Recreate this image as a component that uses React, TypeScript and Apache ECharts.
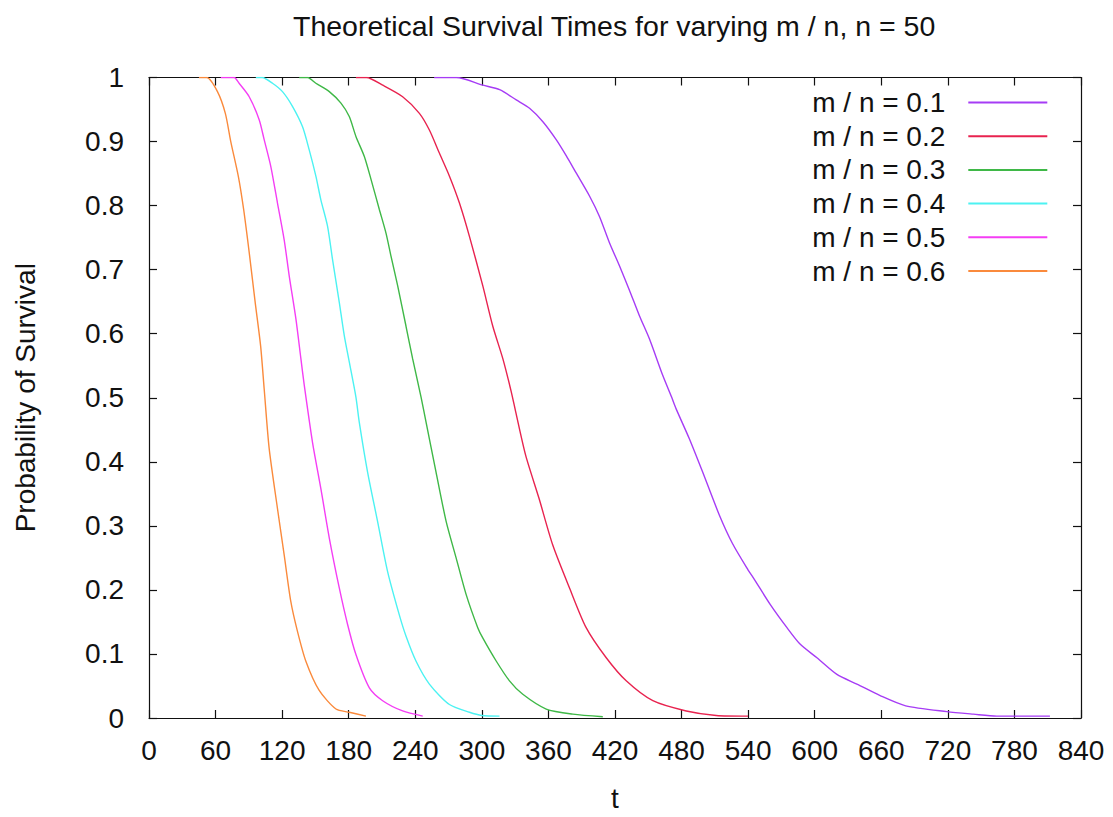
import React, { useEffect, useRef } from "react";
import * as echarts from "echarts";

const titleText = "Theoretical Survival Times for varying m / n, n = 50";
const xName = "t";
const yName = "Probability of Survival";
const seriesNames = ["m / n = 0.1", "m / n = 0.2", "m / n = 0.3", "m / n = 0.4", "m / n = 0.5", "m / n = 0.6"];
const seriesColors = ["#a63cf5", "#e8234f", "#3fb847", "#4cf2f2", "#f43ef4", "#fa8a3c"];

const ratio01: [number, number][] = [
  [257, 1], [277, 1], [301, 0.988], [316, 0.981], [331, 0.965], [343, 0.952], [355, 0.931], [367, 0.903],
  [376, 0.878], [385, 0.851], [397, 0.815], [406, 0.783], [415, 0.742], [424, 0.706], [433, 0.668],
  [442, 0.628], [451, 0.592], [463, 0.535], [471, 0.501], [475, 0.483], [487, 0.436], [499, 0.384],
  [514, 0.317], [526, 0.272], [540, 0.231], [545, 0.218], [560, 0.177], [575, 0.141], [587, 0.115],
  [602, 0.094], [620, 0.068], [638, 0.053], [659, 0.035], [682, 0.019], [719, 0.01], [743, 0.006],
  [764, 0.003], [812, 0.003],
];
const ratio02: [number, number][] = [
  [186.5, 1], [196, 1], [210.6, 0.988], [228.6, 0.97], [243.7, 0.944], [252.7, 0.918], [261.7, 0.882],
  [270.8, 0.846], [279.8, 0.804], [288.8, 0.752], [300.8, 0.675], [309.8, 0.612], [318.9, 0.561],
  [326.4, 0.51], [330.5, 0.478], [339.5, 0.41], [351.5, 0.343], [363.9, 0.27], [379, 0.203], [394, 0.141],
  [412.1, 0.094], [430.1, 0.058], [454.1, 0.027], [484.2, 0.011], [511.2, 0.004], [539.9, 0.003],
];
const ratio03: [number, number][] = [
  [135.4, 1], [143, 1], [150.4, 0.991], [162.5, 0.978], [173, 0.96], [180.5, 0.939], [186.5, 0.908],
  [194, 0.877], [200.1, 0.841], [207.6, 0.794], [213.6, 0.757], [218.1, 0.721], [224.1, 0.675],
  [231.6, 0.612], [237.6, 0.561], [245.2, 0.501], [249.7, 0.462], [258.7, 0.384], [267.8, 0.307],
  [276.8, 0.25], [285.8, 0.193], [296.3, 0.141], [300.8, 0.125], [312.9, 0.089], [324.9, 0.058],
  [336.9, 0.037], [358, 0.014], [382, 0.006], [409, 0.002],
];
const ratio04: [number, number][] = [
  [96.3, 1], [102, 1], [111.3, 0.991], [120.3, 0.978], [129.3, 0.955], [138.4, 0.923], [144.4, 0.887],
  [150.4, 0.846], [154.9, 0.809], [160.9, 0.768], [165.4, 0.716], [171.5, 0.649], [176, 0.597],
  [180.5, 0.556], [186.5, 0.501], [189.5, 0.462], [197, 0.384], [206, 0.307], [215, 0.229], [225.6, 0.161],
  [231.6, 0.128], [240.6, 0.089], [252.7, 0.053], [270.8, 0.021], [288.8, 0.009], [300, 0.004], [315.9, 0.003],
];
const ratio05: [number, number][] = [
  [64.7, 1], [76.7, 1], [81.2, 0.991], [90.3, 0.97], [99.3, 0.934], [103.8, 0.903], [109.8, 0.861],
  [115.8, 0.804], [121.8, 0.747], [126.4, 0.69], [132.4, 0.623], [136.9, 0.561], [139.9, 0.52],
  [147.4, 0.43], [154.9, 0.358], [162.5, 0.281], [171.5, 0.203], [179, 0.146], [186.5, 0.099],
  [198.6, 0.047], [210.6, 0.027], [228.6, 0.011], [246.7, 0.003],
];
const ratio06: [number, number][] = [
  [45, 1], [52, 1], [61.7, 0.978], [68.8, 0.944], [73.7, 0.9], [80.6, 0.845], [85.3, 0.794], [90.3, 0.727],
  [95.7, 0.649], [100.6, 0.581], [103.8, 0.514], [108.3, 0.421], [115.8, 0.327], [121.8, 0.255],
  [127.8, 0.182], [133.7, 0.136], [141.3, 0.089], [153.4, 0.043], [168.5, 0.014], [180.5, 0.009],
  [195.5, 0.003],
];
const allSeries = [ratio01, ratio02, ratio03, ratio04, ratio05, ratio06];

const FONT = "'Liberation Sans', Arial, sans-serif";
const FS = 28;

const mkLine = () => ({ show: true, onZero: false, lineStyle: { color: "#111", width: 1.2 } });
const mkTick = () => ({ show: true, inside: true, length: 8, lineStyle: { color: "#111", width: 1.2 } });

export default function App() {
  const ref = useRef<HTMLDivElement>(null);
  useEffect(() => {
    document.body.style.margin = "0";
    const chart = echarts.init(ref.current!, null, { renderer: "svg" });
    chart.setOption({
      animation: false,
      backgroundColor: "#fff",
      title: {
        text: titleText,
        left: 288,
        top: 6,
        textStyle: { fontFamily: FONT, fontSize: 28.5, fontWeight: "normal", color: "#111" },
      },
      grid: { left: 149, right: 32, top: 77.5, bottom: 96.5, containLabel: false },
      legend: {
        orient: "vertical",
        right: 65.7,
        top: 88.5,
        padding: 0,
        align: "right",
        icon: "rect",
        itemWidth: 79,
        itemHeight: 2,
        itemGap: 5.7,
        textStyle: { fontFamily: FONT, fontSize: FS, color: "#111", lineHeight: 28, padding: [0, 18, 0, 0] },
        data: seriesNames,
      },
      xAxis: [
        {
          type: "value", min: 0, max: 840, interval: 60, position: "bottom",
          name: xName, nameLocation: "middle", nameGap: 66,
          nameTextStyle: { fontFamily: FONT, fontSize: FS, color: "#111" },
          axisLine: mkLine(), axisTick: mkTick(), splitLine: { show: false },
          axisLabel: { fontFamily: FONT, fontSize: FS, color: "#111", margin: 18 },
        },
        {
          type: "value", min: 0, max: 840, interval: 60, position: "top",
          axisLine: mkLine(), axisTick: mkTick(), splitLine: { show: false }, axisLabel: { show: false },
        },
      ],
      yAxis: [
        {
          type: "value", min: 0, max: 1, interval: 0.1, position: "left",
          name: yName, nameLocation: "middle", nameGap: 110, nameRotate: 90,
          nameTextStyle: { fontFamily: FONT, fontSize: FS, color: "#111" },
          axisLine: mkLine(), axisTick: mkTick(), splitLine: { show: false },
          axisLabel: {
            fontFamily: FONT, fontSize: FS, color: "#111", margin: 25,
            formatter: (v: number) => (v === 0 ? "0" : v === 1 ? "1" : v.toFixed(1)),
          },
        },
        {
          type: "value", min: 0, max: 1, interval: 0.1, position: "right",
          axisLine: mkLine(), axisTick: mkTick(), splitLine: { show: false }, axisLabel: { show: false },
        },
      ],
      series: allSeries.map((d, i) => ({
        name: seriesNames[i],
        type: "line",
        data: d,
        showSymbol: false,
        symbol: "none",
        smooth: 0.25,
        color: seriesColors[i],
        lineStyle: { width: 1.4, color: seriesColors[i] },
        itemStyle: { color: seriesColors[i] },
      })),
    });
    return () => chart.dispose();
  }, []);
  return <div ref={ref} style={{ position: "absolute", left: 0, top: 0, width: 1113, height: 817 }} />;
}
